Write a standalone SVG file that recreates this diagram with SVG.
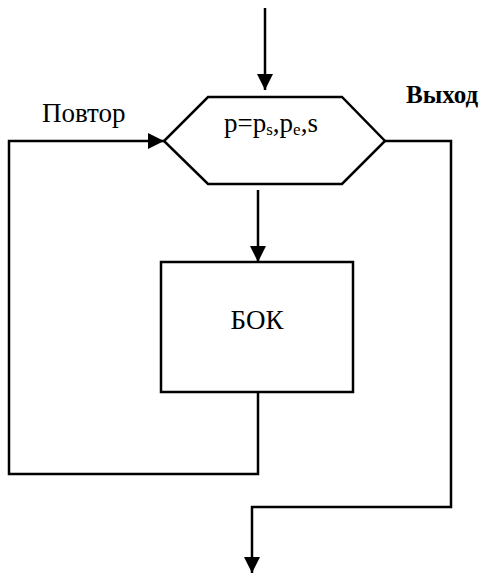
<svg xmlns="http://www.w3.org/2000/svg" width="483" height="573" viewBox="0 0 483 573">
<style>
.ln{fill:none;stroke:#000;stroke-width:2.5;stroke-linejoin:miter}
.shape{fill:#fff;stroke:#000;stroke-width:2.5}
.t{font-family:"Liberation Serif","Times New Roman",serif;font-size:27px;fill:#000}
.b{font-weight:bold;font-size:25px}
</style>
<defs>
<marker id="ah" viewBox="0 0 16 16" refX="16" refY="8" markerWidth="16" markerHeight="16" markerUnits="userSpaceOnUse" orient="auto">
<path d="M0,0 L16,8 L0,16 Z" fill="#000"/>
</marker>
</defs>
<rect width="483" height="573" fill="#fff"/>
<g id="connectors">
<line class="ln" x1="265" y1="8" x2="265" y2="90" marker-end="url(#ah)"/>
<line class="ln" x1="258" y1="190" x2="258" y2="262" marker-end="url(#ah)"/>
<polyline class="ln" points="258,392 258,474 9,474 9,141 164,141" marker-end="url(#ah)"/>
<polyline class="ln" points="385,141 451,141 451,507 252,507 252,573" marker-end="url(#ah)"/>
</g>
<g id="loop">
<polygon class="shape" points="208,97 342,97 385,141 342,184 208,184 164,141"/>
<text class="t" x="224" y="132">p=p<tspan font-size="17" dy="3">s</tspan><tspan dy="-3">,p</tspan><tspan font-size="17" dy="3">e</tspan><tspan dy="-3">,s</tspan></text>
</g>
<g id="bok">
<rect class="shape" x="161" y="262" width="192" height="130"/>
<text class="t" x="257" y="329" text-anchor="middle">БОК</text>
</g>
<g id="label-repeat">
<text class="t" x="42" y="122">Повтор</text>
</g>
<g id="label-exit">
<text class="t b" x="406" y="103">Выход</text>
</g>
</svg>
